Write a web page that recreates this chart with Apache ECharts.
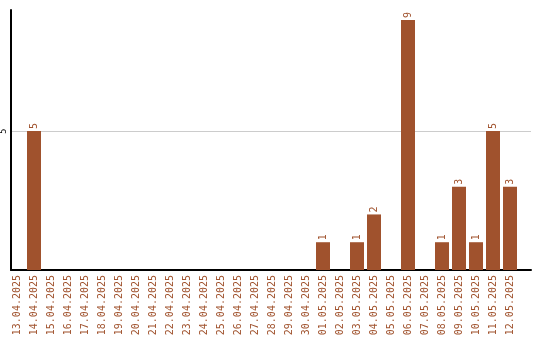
<!DOCTYPE html>
<html><head><meta charset="utf-8">
<script src="https://cdn.jsdelivr.net/npm/echarts@6/dist/echarts.min.js"></script>
<style>html,body{margin:0;padding:0;background:#fff}#c{width:540px;height:340px}</style>
</head><body><div id="c"></div>
<script>
const categories = ["13.04.2025","14.04.2025","15.04.2025","16.04.2025","17.04.2025","18.04.2025","19.04.2025","20.04.2025","21.04.2025","22.04.2025","23.04.2025","24.04.2025","25.04.2025","26.04.2025","27.04.2025","28.04.2025","29.04.2025","30.04.2025","01.05.2025","02.05.2025","03.05.2025","04.05.2025","05.05.2025","06.05.2025","07.05.2025","08.05.2025","09.05.2025","10.05.2025","11.05.2025","12.05.2025"];
const values = [0,5,0,0,0,0,0,0,0,0,0,0,0,0,0,0,0,0,1,0,1,2,0,9,0,1,3,1,5,3];
const yTicks = [5];
const yMax = 9.36;

const chart = echarts.init(document.getElementById('c'));
chart.setOption({
  animation:false,
  grid:[
    {left:11,right:9,top:10,bottom:70,containLabel:false},
    {left:8.5,right:21.5,top:10,bottom:70,containLabel:false}
  ],
  xAxis:[
    {gridIndex:0,type:'category',data:categories,
      axisLine:{lineStyle:{color:'#000',width:2}},
      axisTick:{show:false},axisLabel:{show:false}},
    {gridIndex:1,type:'category',data:categories,
      axisLine:{show:false},
      axisTick:{show:false},
      axisLabel:{rotate:90,interval:0,color:'#a0522d',fontFamily:'DejaVu Sans Mono',fontSize:10,margin:5}}
  ],
  yAxis:[
    {gridIndex:0,type:'value',min:0,max:yMax,interval:5,
      axisLine:{show:true,lineStyle:{color:'#000',width:2}},
      axisTick:{show:false},
      splitLine:{show:true,lineStyle:{color:['rgba(0,0,0,0)','#ccc','rgba(0,0,0,0)'],width:1}},
      axisLabel:{rotate:90,color:'#000',fontSize:8,fontFamily:'DejaVu Sans',margin:3,
        formatter:v=>yTicks.includes(v)?String(v):''}},
    {gridIndex:1,type:'value',min:0,max:yMax,show:false}
  ],
  series:[{type:'bar',xAxisIndex:1,yAxisIndex:1,data:values.map(v=>v===0?null:v),barWidth:14,
    itemStyle:{color:'#a0522d'},
    label:{show:true,position:'top',rotate:90,align:'left',verticalAlign:'middle',distance:2,
      color:'#a0522d',fontFamily:'DejaVu Sans Mono',fontSize:10}}]
});
</script></body></html>
